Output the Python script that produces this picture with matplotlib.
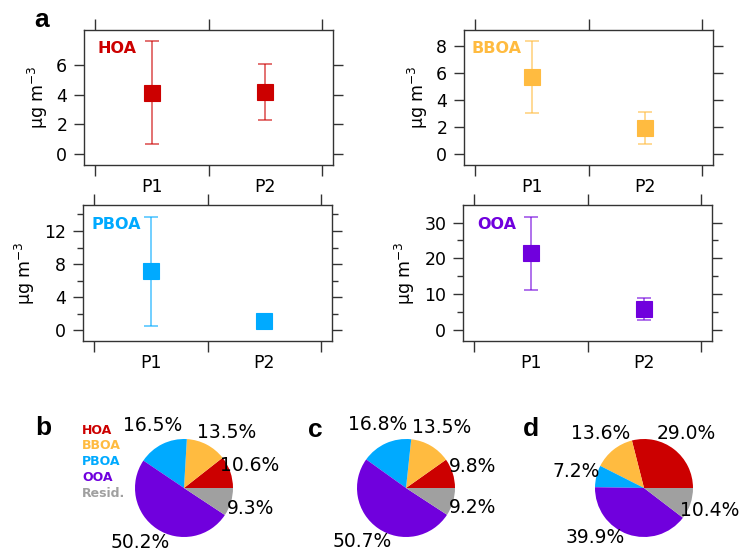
import numpy as np
import matplotlib.pyplot as plt
from matplotlib.ticker import MultipleLocator

plt.rcParams['font.family'] = ['DejaVu Sans']

periods = ['P1', 'P2']
factors = ['HOA', 'BBOA', 'PBOA', 'OOA']
colors = {'HOA': '#CC0000', 'BBOA': '#FFBB40', 'PBOA': '#00AAFF',
          'OOA': '#7000DD', 'Resid.': '#A0A0A0'}

# mean and error-bar limits (lower, upper)
means = {'HOA': [4.1, 4.2], 'BBOA': [5.7, 1.95], 'PBOA': [7.1, 1.05], 'OOA': [21.4, 5.8]}
lows = {'HOA': [0.7, 2.3], 'BBOA': [3.05, 0.75], 'PBOA': [0.5, 1.05], 'OOA': [11.3, 2.9]}
highs = {'HOA': [7.6, 6.1], 'BBOA': [8.4, 3.15], 'PBOA': [13.7, 1.05], 'OOA': [31.5, 8.8]}

# pie fractions (%)
pie_labels = ['HOA', 'BBOA', 'PBOA', 'OOA', 'Resid.']
pie_b = [10.6, 13.5, 16.5, 50.2, 9.3]
pie_c = [9.8, 13.5, 16.8, 50.7, 9.2]
pie_d = [29.0, 13.6, 7.2, 39.9, 10.4]

# small angular nudges (deg) of the percentage labels, as placed in the original
nudge_b = [0, -10, 0, -5, 0]
nudge_c = [0, 0, 0, -5, 0]
nudge_d = [0, 0, 0, -25, 0]

W, H = 752, 552
fig = plt.figure(figsize=(W / 100, H / 100), dpi=100)


def px_axes(x0, y0, x1, y1):
    return fig.add_axes([x0 / W, 1 - y1 / H, (x1 - x0) / W, (y1 - y0) / H])


panel = {
    'HOA': dict(box=(84, 30, 333, 165), ylim=(-0.74, 8.36), minor=None, yt=[0, 2, 4, 6], lab=(0.056, 0.86), ylx=-0.137),
    'BBOA': dict(box=(464, 30, 713, 165), ylim=(-0.8, 9.2), minor=None, yt=[0, 2, 4, 6, 8], lab=(0.032, 0.86), ylx=-0.137),
    'PBOA': dict(box=(83, 205, 332, 341), ylim=(-1.33, 15.15), minor=2, yt=[0, 4, 8, 12], lab=(0.036, 0.86), ylx=-0.185),
    'OOA': dict(box=(463, 205, 712, 341), ylim=(-3.07, 34.9), minor=5, yt=[0, 10, 20, 30], lab=(0.056, 0.853), ylx=-0.185),
}

edge = '#333333'
for f in factors:
    p = panel[f]
    ax = px_axes(*p['box'])
    x = np.array([0.5, 1.5])
    m = np.array(means[f])
    err = [m - np.array(lows[f]), np.array(highs[f]) - m]
    ax.errorbar(x, m, yerr=err, fmt='none', ecolor=colors[f], alpha=0.6,
                elinewidth=1.3, capsize=5, capthick=1.3)
    ax.plot(x, m, 's', color=colors[f], markersize=12, markeredgewidth=0.8,
            markeredgecolor=colors[f], zorder=3)
    ax.set_xlim(-0.1, 2.1)
    ax.set_ylim(*p['ylim'])
    ax.set_xticks([0, 1, 2])
    ax.set_xticklabels([])
    ax.set_xticks(x, periods, minor=True)
    ax.set_yticks(p['yt'])
    if p['minor']:
        ax.yaxis.set_minor_locator(MultipleLocator(p['minor']))
    ax.tick_params(axis='x', which='major', direction='out', length=8, width=1,
                   top=True, bottom=True, color=edge)
    ax.tick_params(axis='x', which='minor', length=0, pad=9, labelsize=12.5)
    ax.tick_params(axis='y', which='major', direction='out', length=7, width=1,
                   left=True, right=True, labelsize=12.5, pad=5, color=edge)
    ax.tick_params(axis='y', which='minor', direction='out', length=4, width=1,
                   left=True, right=True, color=edge)
    for s in ax.spines.values():
        s.set_color(edge)
        s.set_linewidth(1)
    ax.set_ylabel('µg m$^{-3}$', fontsize=12.5)
    ax.yaxis.set_label_coords(p['ylx'], 0.5)
    ax.text(p['lab'][0], p['lab'][1], f, transform=ax.transAxes, color=colors[f],
            fontsize=11.5, fontweight='bold', ha='left', va='center')

pie_centers = [(184, 488), (406, 488), (644, 488)]
R = 49
for vals, nudge, (cx, cy) in zip([pie_b, pie_c, pie_d], [nudge_b, nudge_c, nudge_d], pie_centers):
    half = 90
    ax = px_axes(cx - half, cy - half, cx + half, cy + half)
    total = sum(vals)
    wedges, texts, autotexts = ax.pie(
        vals, colors=[colors[k] for k in pie_labels], startangle=0,
        counterclock=True, radius=1, pctdistance=1.42,
        autopct=lambda pc, t=total: f'{pc * t / 100:.1f}%',
        textprops=dict(fontsize=13.5, color='black'))
    for w, t, dn in zip(wedges, autotexts, nudge):
        ang = np.deg2rad((w.theta1 + w.theta2) / 2 + dn)
        t.set_position((1.42 * np.cos(ang), 1.42 * np.sin(ang)))
        t.set_clip_on(False)
    lim = half / R
    ax.set_xlim(-lim, lim)
    ax.set_ylim(-lim, lim)
    ax.set_aspect('equal')
    ax.axis('off')

# legend of panel b
for i, k in enumerate(pie_labels):
    fig.text(82 / W, 1 - (430 + i * 15.8) / H, k, color=colors[k], fontsize=9,
             fontweight='bold', ha='left', va='center')

for letter, (lx, ly) in zip('abcd', [(42, 20), (43, 428), (315, 430), (531, 429)]):
    fig.text(lx / W, 1 - ly / H, letter, fontsize=19, fontweight='bold',
             family='Liberation Sans', ha='center', va='center')

fig.savefig('out.png', dpi=100)
